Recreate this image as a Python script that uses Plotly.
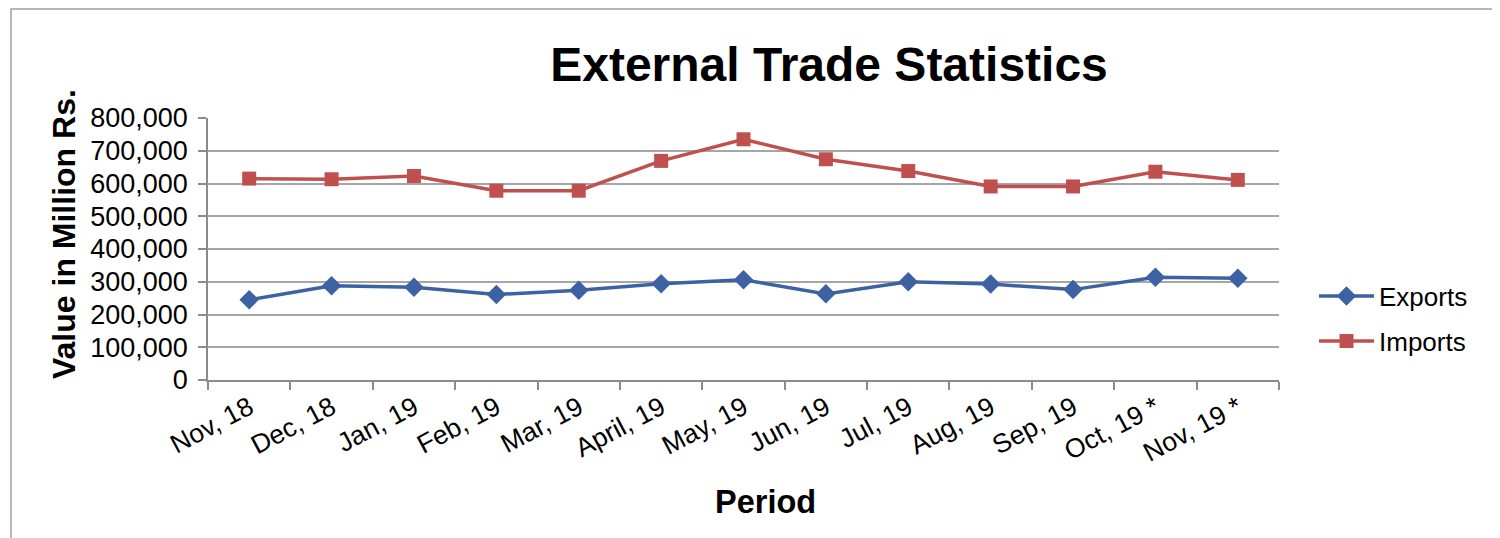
import plotly.graph_objects as go

periods = ["Nov, 18", "Dec, 18", "Jan, 19", "Feb, 19", "Mar, 19", "April, 19", "May, 19",
           "Jun, 19", "Jul, 19", "Aug, 19", "Sep, 19", "Oct, 19 *", "Nov, 19 *"]
exports = [245000, 288000, 283000, 261000, 274000, 294000, 306000, 263000, 300000, 293000, 276000, 314000, 311000]
imports = [615000, 613000, 623000, 578000, 578000, 669000, 735000, 674000, 638000, 591000, 591000, 636000, 611000]

OFF = 8  # page body margin
W, H = 1500 - OFF, 538 - OFF
L, R, T, B = 208 - OFF, 1279 - OFF, 118 - OFF, 380 - OFF  # plot area in figure pixels

def px(x):
    return (x - OFF - L) / (R - L)

def py(y):
    return (B - (y - OFF)) / (B - T)

FONT = "Liberation Sans, Arial, sans-serif"
GRID = "#a6a6a6"
AX = "#8c8c8c"

fig = go.Figure()
fig.add_trace(go.Scatter(
    x=periods, y=exports, name="Exports", mode="lines+markers",
    line=dict(color="#3c62a3", width=3.5),
    marker=dict(symbol="diamond", size=15, color="#3c62a3"),
    legend="legend",
))
fig.add_trace(go.Scatter(
    x=periods, y=imports, name="Imports", mode="lines+markers",
    line=dict(color="#c0504d", width=3.5),
    marker=dict(symbol="square", size=14, color="#c0504d"),
    legend="legend2",
))

fig.update_layout(
    width=W, height=H,
    margin=dict(l=L, r=W - R, t=T, b=H - B, autoexpand=False),
    paper_bgcolor="white", plot_bgcolor="white",
    font=dict(family=FONT, size=26, color="black"),
    title=dict(text="<b>External Trade Statistics</b>", font=dict(size=48, family=FONT, color="black"),
               x=(829 - OFF) / W, xanchor="center", xref="container",
               y=1 - (64 - OFF) / H, yanchor="middle", yref="container"),
    xaxis=dict(
        type="category", range=[-0.5, len(periods) - 0.5],
        tickson="boundaries", ticks="outside", ticklen=8, tickcolor=AX, tickwidth=1.5,
        showline=True, linecolor=AX, linewidth=1.5, showgrid=False,
        tickangle=-28, tickfont=dict(size=26.5, family=FONT, color="black"),
        automargin=False, fixedrange=True,
    ),
    yaxis=dict(
        range=[0, 800000], dtick=100000, tickformat=",",
        ticks="outside", ticklen=8, tickcolor=AX, tickwidth=1.5,
        showline=True, linecolor=AX, linewidth=1.5,
        showgrid=True, gridcolor=GRID, gridwidth=1.5, zeroline=False,
        tickfont=dict(size=27, family=FONT, color="black"),
        ticklabelstandoff=5,
        automargin=False, fixedrange=True,
    ),
    legend=dict(x=px(1314), y=py(296), xanchor="left", yanchor="middle",
                font=dict(size=26, family=FONT), bgcolor="rgba(0,0,0,0)", itemwidth=55),
    legend2=dict(x=px(1314), y=py(341), xanchor="left", yanchor="middle",
                 font=dict(size=26, family=FONT), bgcolor="rgba(0,0,0,0)", itemwidth=55),
    showlegend=True,
)

fig.add_annotation(text="<b>Value in Million Rs.</b>", textangle=-90,
                   x=px(64), y=py(234), xref="paper", yref="paper",
                   xanchor="center", yanchor="middle", showarrow=False,
                   font=dict(size=32, family=FONT, color="black"))
fig.add_annotation(text="<b>Period</b>",
                   x=px(765), y=py(502), xref="paper", yref="paper",
                   xanchor="center", yanchor="middle", showarrow=False,
                   font=dict(size=32.5, family=FONT, color="black"))

# outer chart frame
fig.add_shape(type="rect", xref="paper", yref="paper",
              x0=px(11), x1=px(1497), y0=py(560), y1=py(9),
              line=dict(color="#a0a0a0", width=1.5), fillcolor="rgba(0,0,0,0)", layer="below")

fig.write_html("out.html")
